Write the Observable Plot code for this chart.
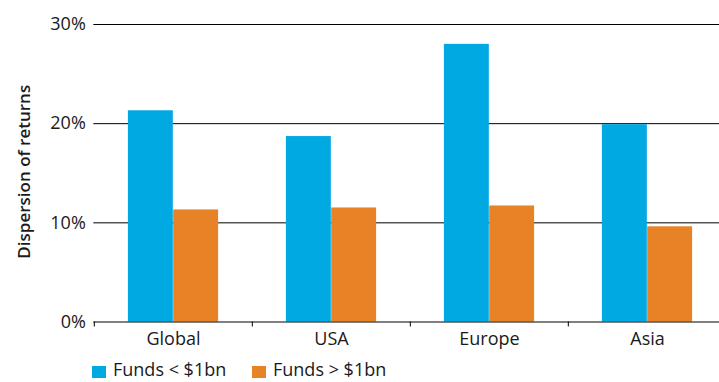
<!DOCTYPE html>
<html>
<head>
<meta charset="utf-8">
<script src="https://cdn.jsdelivr.net/npm/d3@7"></script>
<script src="https://cdn.jsdelivr.net/npm/@observablehq/plot@0.6"></script>
<style>
  html, body { margin: 0; padding: 0; background: #fff; overflow: hidden; }
  #chart svg { overflow: hidden; }
  .legend { display: flex; align-items: center; height: 18px; margin-top: 10px;
            font-family: "Open Sans", sans-serif; font-size: 18px; color: #1a1a1a; }
  .legend .item { display: flex; align-items: center; white-space: nowrap; height: 18px; }
  .legend .sw { width: 14px; height: 13px; margin-right: 7px; flex: none; position: relative; top: 3px; }
  .legend .lbl { display: inline-block; height: 18px; line-height: 18px; }
</style>
</head>
<body>
<div id="chart"></div>
<script>
// Regions and the dispersion of returns (%) for each fund-size group
const regions = ["Global", "USA", "Europe", "Asia"];
const smallFunds = [21.3, 18.7, 28.0, 19.9];   // Funds < $1bn
const largeFunds = [11.3, 11.5, 11.7, 9.6];    // Funds > $1bn
const seriesNames = ["Funds < $1bn", "Funds > $1bn"];
const yTicks = [0, 10, 20, 30];
const yTitle = "Dispersion of returns";

const colors = ["#00a9e2", "#e78226"];

const data = regions.map((region, i) => ({
  region,
  small: smallFunds[i],
  large: largeFunds[i]
}));

const W = 719, H = 350;
const xRange = [93.3, 726.7];               // the last band runs past the right edge
const bw = (xRange[1] - xRange[0]) / regions.length;
const barW = bw * 0.286;

const chart = Plot.plot({
  width: W,
  height: H,
  marginLeft: xRange[0],
  marginRight: 0,
  marginTop: 24,
  marginBottom: 28.5,
  style: { fontFamily: "Open Sans", fontSize: "18px", color: "#1a1a1a", background: "#fff" },
  x: { type: "band", domain: regions, range: xRange, padding: 0 },
  y: { domain: [0, 30] },
  marks: [
    Plot.ruleY(yTicks.filter(d => d > 0), { stroke: "#000", strokeWidth: 1 }),
    Plot.barY(data, { x: "region", y: "small", fill: colors[0], insetLeft: bw / 2 - barW, insetRight: bw / 2 }),
    Plot.barY(data, { x: "region", y: "large", fill: colors[1], insetLeft: bw / 2, insetRight: bw / 2 - barW }),
    Plot.ruleY([0], { stroke: "#000", strokeWidth: 1 }),
    Plot.axisY({ ticks: yTicks, tickSize: 0, tickPadding: 8, tickFormat: d => d + "%", label: null }),
    Plot.axisX({ tickSize: 0, tickPadding: 10, label: null }),
    Plot.axisX({ tickSize: 5, tickFormat: () => "", dx: -bw / 2, label: null, stroke: "#000" }),
    Plot.text([yTitle], {
      frameAnchor: "left", textAnchor: "middle", lineAnchor: "middle",
      rotate: -90, dx: -69, dy: -1.5, fontWeight: 600, fontSize: 17, fill: "#1a1a1a"
    })
  ]
});

document.getElementById("chart").appendChild(chart);

// Legend below the chart
const legend = document.createElement("div");
legend.className = "legend";
legend.style.paddingLeft = "92px";
seriesNames.forEach((name, i) => {
  const item = document.createElement("div");
  item.className = "item";
  if (i === 0) item.style.width = "160px";
  const sw = document.createElement("span");
  sw.className = "sw";
  sw.style.background = colors[i];
  const label = document.createElement("span");
  label.className = "lbl";
  label.textContent = name;
  item.appendChild(sw);
  item.appendChild(label);
  legend.appendChild(item);
});
document.body.appendChild(legend);
</script>
</body>
</html>
